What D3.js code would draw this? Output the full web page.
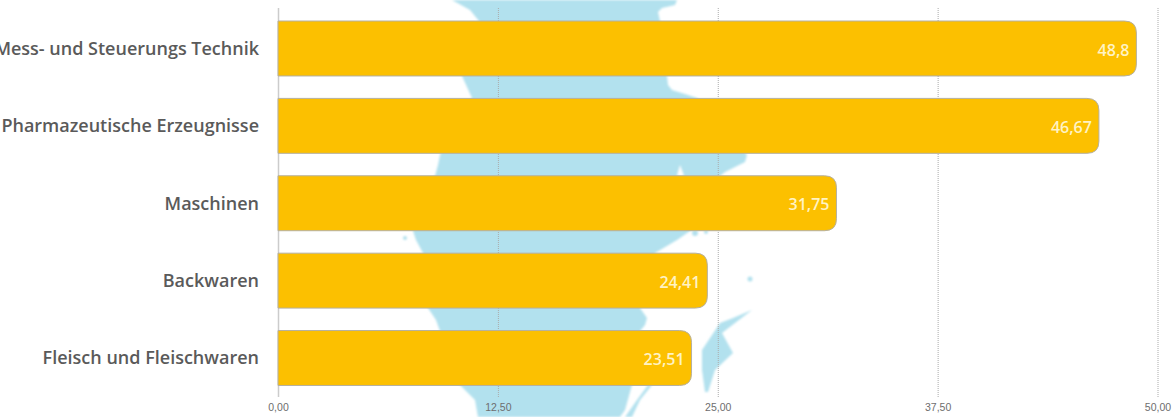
<!DOCTYPE html>
<html>
<head>
<meta charset="utf-8">
<script src="https://cdn.jsdelivr.net/npm/d3@7"></script>
<style>
    html, body { margin: 0; padding: 0; background: #fff; overflow: hidden; }
    svg { display: block; }
    .cat { font: 600 18px "Open Sans", sans-serif; fill: #5a5a5a; }
    .val { font: 600 16px "Open Sans", sans-serif; fill: #fff3c4; }
    .tick text { font: 10.5px "Liberation Sans", sans-serif; fill: #6e6e6e; }
</style>
</head>
<body>
<svg id="chart" width="1173" height="417"></svg>
<script>
const categories = ["Mess- und Steuerungs Technik", "Pharmazeutische Erzeugnisse", "Maschinen", "Backwaren", "Fleisch und Fleischwaren"];
const values = [48.8, 46.67, 31.75, 24.41, 23.51];
const valueLabels = ["48,8", "46,67", "31,75", "24,41", "23,51"];
const tickValues = [0, 12.5, 25, 37.5, 50];

// background map, traced by hand in page pixels (only the gaps between bars show)
const mainland = [[452,0],[470,10],[479,21],[470,50],[462,76],[472,98],[450,130],[440,155],[438,165],[435,176],[420,205],[413,231],[416,240],[423,253],[425,285],[428,308],[436,320],[440,331],[450,360],[460,385],[475,400],[478,417],[620,417],[625,410],[632,385],[640,331],[645,325],[647,318],[640,308],[650,280],[655,253],[677,240],[690,231],[715,200],[720,176],[725,172],[745,162],[747,155],[720,125],[697,98],[685,94],[672,90],[668,85],[667,76],[660,50],[660,21],[658,12],[662,8],[675,5],[677,0]];
const gotland = [[752,310],[733,318],[720,323],[702,350],[702,370],[705,392],[708,392],[715,370],[733,353],[722,333],[735,323]];
const oland = [[652,385],[648,385],[637,400],[625,417],[632,417],[640,400]];
const notch = [[677,176],[680,165],[684,176]];
const islets = [[750,279,2.5],[405,238,2],[695,233,3],[706,232,2]];

const svg = d3.select("#chart");

const x = d3.scaleLinear().domain([0, 50]).range([278, 1157.5]);
const y = d3.scaleBand().domain(categories).range([9.8, 396.7]).paddingInner(0.29).paddingOuter(0.145);

svg.append("defs").append("filter").attr("id", "soft")
    .append("feGaussianBlur").attr("stdDeviation", 1);

const mapLine = d3.line().curve(d3.curveLinear);
const map = svg.append("g").attr("filter", "url(#soft)").attr("fill", "#b2e1ee");
[mainland, gotland, oland].forEach(shape => {
    map.append("path").attr("d", mapLine(shape) + "Z");
});
map.append("path").attr("d", mapLine(notch) + "Z").attr("fill", "#fff");
map.selectAll("circle")
    .data(islets)
    .join("circle")
    .attr("cx", d => d[0])
    .attr("cy", d => d[1])
    .attr("r", d => d[2]);

// grid lines are the axis ticks stretched up the plot
const axis = svg.append("g")
    .attr("transform", "translate(0,397)")
    .call(d3.axisBottom(x)
        .tickValues(tickValues)
        .tickSize(-389)
        .tickPadding(7)
        .tickFormat(d => d3.format(".2f")(d).replace(".", ",")));
axis.select(".domain").remove();
axis.selectAll(".tick line")
    .attr("stroke", "#aaa")
    .attr("stroke-dasharray", "1,1");
axis.selectAll(".tick:first-of-type line")
    .attr("stroke", "#ccc")
    .attr("stroke-width", 1.5)
    .attr("stroke-dasharray", null);

function barPath(v, cat) {
    const x0 = x(0), x1 = x(v), y0 = y(cat), y1 = y(cat) + y.bandwidth();
    const r = 12;
    return `M${x0},${y0}H${x1 - r}Q${x1},${y0} ${x1},${y0 + r}V${y1 - r}Q${x1},${y1} ${x1 - r},${y1}H${x0}Z`;
}

svg.append("g").selectAll("path")
    .data(values)
    .join("path")
    .attr("d", (d, i) => barPath(d, categories[i]))
    .attr("fill", "#fcc000")
    .attr("stroke", "#b5b0a0")
    .attr("stroke-width", 1);

svg.append("g").selectAll("text")
    .data(categories)
    .join("text")
    .attr("class", "cat")
    .attr("x", 259)
    .attr("y", d => y(d) + y.bandwidth() / 2)
    .attr("dy", "0.35em")
    .attr("text-anchor", "end")
    .text(d => d);

svg.append("g").selectAll("text")
    .data(values)
    .join("text")
    .attr("class", "val")
    .attr("x", d => x(d) - 7)
    .attr("y", (d, i) => y(categories[i]) + y.bandwidth() / 2 + 1.5)
    .attr("dy", "0.35em")
    .attr("text-anchor", "end")
    .text((d, i) => valueLabels[i]);
</script>
</body>
</html>
